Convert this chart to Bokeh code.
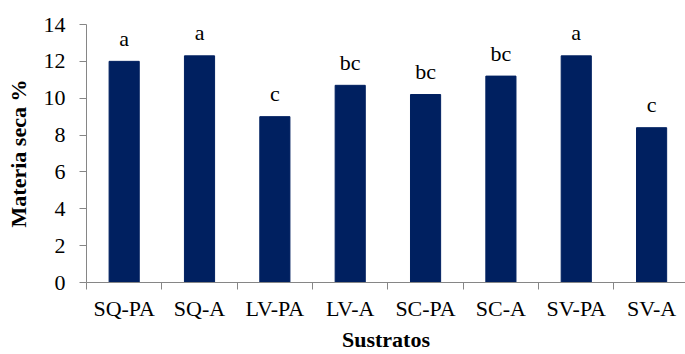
from bokeh.plotting import figure
from bokeh.models import Range1d, FixedTicker, ColumnDataSource
from bokeh.core.properties import value
from bokeh.embed import file_html
from bokeh.resources import INLINE

categories = ["SQ-PA", "SQ-A", "LV-PA", "LV-A", "SC-PA", "SC-A", "SV-PA", "SV-A"]
materia_seca = [12.0, 12.3, 9.0, 10.7, 10.2, 11.2, 12.3, 8.4]
letters = ["a", "a", "c", "bc", "bc", "bc", "a", "c"]
y_ticks = [0, 2, 4, 6, 8, 10, 12, 14]
x_title = "Sustratos"
y_title = "Materia seca %"

FONT = "'Liberation Serif', 'Times New Roman', Times, serif"
BAR = "#002060"
AXIS = "#868686"

xpos = [i + 0.5 for i in range(len(categories))]
src = ColumnDataSource(dict(x=xpos, y=materia_seca, lab=letters, cat=categories))

p = figure(width=685, height=354, output_backend="svg", toolbar_location=None,
           x_range=Range1d(0, 7.95), y_range=Range1d(0, 14),
           min_border_left=86, min_border_right=0, min_border_top=24, min_border_bottom=72)
p.outline_line_color = None
p.xgrid.grid_line_color = None
p.ygrid.grid_line_color = None

p.vbar(x="x", top="y", width=0.4, bottom=0, source=src, fill_color=BAR, line_color=BAR)
p.text(x="x", y="y", text="lab", source=src, y_offset=-23, text_align="center",
       text_baseline="alphabetic", text_font=value(FONT), text_font_size="22px",
       text_color="black")

# x axis
xa = p.xaxis[0]
xa.ticker = FixedTicker(ticks=xpos, minor_ticks=list(range(len(categories) + 1)))
xa.major_label_overrides = {x: c for x, c in zip(xpos, categories)}
xa.major_tick_line_color = None
xa.major_tick_out = 0
xa.minor_tick_out = 7
xa.minor_tick_in = 0
xa.minor_tick_line_color = AXIS
xa.axis_line_color = AXIS
xa.major_label_standoff = 6
xa.major_label_text_font = FONT
xa.major_label_text_font_size = "22px"
xa.major_label_text_color = "black"
xa.axis_label = x_title
xa.axis_label_text_font = FONT
xa.axis_label_text_font_style = "bold"
xa.axis_label_text_font_size = "22px"
xa.axis_label_text_color = "black"
xa.axis_label_standoff = 3

# y axis
ya = p.yaxis[0]
ya.ticker = FixedTicker(ticks=y_ticks)
ya.minor_tick_line_color = None
ya.major_tick_out = 7
ya.major_tick_in = 0
ya.major_tick_line_color = AXIS
ya.axis_line_color = AXIS
ya.major_label_standoff = 14
ya.major_label_text_font = FONT
ya.major_label_text_font_size = "22px"
ya.major_label_text_color = "black"
ya.axis_label = y_title
ya.axis_label_text_font = FONT
ya.axis_label_text_font_style = "bold"
ya.axis_label_text_font_size = "22px"
ya.axis_label_text_color = "black"
ya.axis_label_standoff = 10

open("out.html", "w").write(file_html(p, INLINE))
